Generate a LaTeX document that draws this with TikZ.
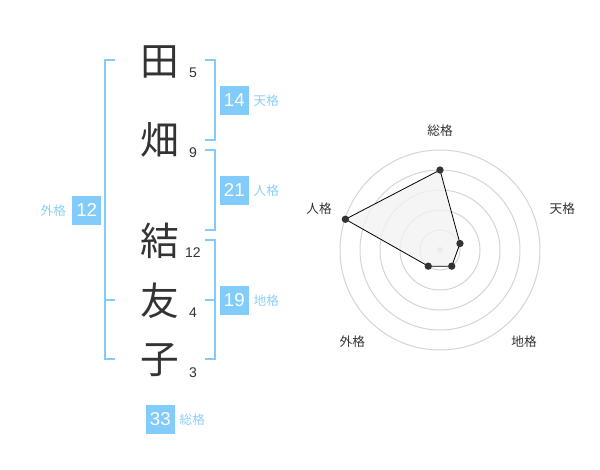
\documentclass[tikz,border=0pt]{standalone}
\usepackage{fontspec}
\setmainfont{Liberation Sans}
\newfontfamily\jp{Noto Sans CJK JP}
\usetikzlibrary{positioning}

\definecolor{kakublue}{RGB}{129,204,250}
\definecolor{kakutext}{RGB}{140,208,246}
\definecolor{inkgrey}{RGB}{51,51,51}
\definecolor{ringgrey}{RGB}{212,212,212}
\definecolor{areagrey}{RGB}{242,242,242}

\tikzset{every picture/.style={line width=0.75pt}}
\tikzset{
  kanji/.style={font=\jp\fontsize{29}{29}\selectfont, text=inkgrey, inner sep=0pt},
  strokes/.style={font=\fontsize{10.5}{10.5}\selectfont, text=inkgrey, inner sep=0pt},
  kakubox/.style={fill=kakublue, text=white, minimum size=21.5pt, inner sep=0pt, font=\fontsize{14}{14}\selectfont},
  kakulabel/.style={font=\jp\fontsize{9.5}{9.5}\selectfont, text=kakutext, inner sep=0pt},
  bracket/.style={draw=kakublue, line width=1.5pt},
  ring/.style={draw=ringgrey, line width=0.75pt},
  axislabel/.style={font=\jp\fontsize{9.5}{9.5}\selectfont, text=inkgrey, inner sep=0pt},
  dot/.style={circle, fill=inkgrey, inner sep=0pt, minimum size=5.5pt}
}

\begin{document}
\begin{tikzpicture}[x=0.75pt,y=0.75pt,yscale=-1,xscale=1]
	\path[use as bounding box] (0,0) rectangle (600,470); %set diagram to 600 x 470

	% Text Node
	\node[kanji] (k1) at (160,62) {田};
	% Text Node
	\node[kanji] (k2) at (160,140) {畑};
	% Text Node
	\node[kanji] (k3) at (160,241) {結};
	% Text Node
	\node[kanji] (k4) at (160,301) {友};
	% Text Node
	\node[kanji] (k5) at (160,360) {子};

	% Text Node
	\node[strokes] (s1) at (193,72.5) {5};
	% Text Node
	\node[strokes] (s2) at (193,152.5) {9};
	% Text Node
	\node[strokes] (s3) at (193,252.5) {12};
	% Text Node
	\node[strokes] (s4) at (193,312.5) {4};
	% Text Node
	\node[strokes] (s5) at (193,372.5) {3};

	%Straight Lines [id:tenkaku]
	\draw[bracket] (205,60) -- (215,60) -- (215,140) -- (205,140) ;
	%Straight Lines [id:jinkaku]
	\draw[bracket] (205,150) -- (215,150) -- (215,230) -- (205,230) ;
	%Straight Lines [id:chikaku]
	\draw[bracket] (205,240) -- (215,240) -- (215,359) -- (205,359) ;
	\draw[bracket] (215,300) -- (205,300) ;
	%Straight Lines [id:gaikaku]
	\draw[bracket] (115,60) -- (105,60) -- (105,359) -- (115,359) ;
	\draw[bracket] (105,300) -- (115,300) ;

	% Text Node
	\node[kakubox] (ten) at (234.3,100.3) {14};
	\node[kakulabel, right=3pt of ten] (tenlbl) {天格};
	% Text Node
	\node[kakubox] (jin) at (234.3,190.3) {21};
	\node[kakulabel, right=3pt of jin] (jinlbl) {人格};
	% Text Node
	\node[kakubox] (chi) at (234.3,300.3) {19};
	\node[kakulabel, right=3pt of chi] (chilbl) {地格};
	% Text Node
	\node[kakubox] (gai) at (86.7,210.3) {12};
	\node[kakulabel, left=4pt of gai] (gailbl) {外格};
	% Text Node
	\node[kakubox] (sou) at (160.3,419.3) {33};
	\node[kakulabel, right=3pt of sou] (soulbl) {総格};

	%Shape: Circles
	\begin{scope}[shift={(440,250)}, yscale=-1]
		\foreach \r in {20,40,60,80,100} {
			\draw[ring] (0,0) circle (\r) ;
		}
		\fill[ringgrey] (0,0) circle (3) ;

		\coordinate (psou) at (90:80) ;
		\coordinate (pten) at (18:21) ;
		\coordinate (pchi) at (-54:20) ;
		\coordinate (pgai) at (-126:20) ;
		\coordinate (pjin) at (162:99.5) ;

		%Shape: Polygon
		\draw[fill=areagrey, fill opacity=0.8, draw=black, line width=0.6pt] (psou) -- (pten) -- (pchi) -- (pgai) -- (pjin) -- cycle ;
		\foreach \p in {psou,pten,pchi,pgai,pjin} {
			\node[dot] at (\p) {};
		}
	\end{scope}

	% Text Node
	\node[axislabel] (asou) at (440,130.7) {総格};
	% Text Node
	\node[axislabel] (aten) at (562.3,208.3) {天格};
	% Text Node
	\node[axislabel] (achi) at (524,342) {地格};
	% Text Node
	\node[axislabel] (agai) at (352.3,342) {外格};
	% Text Node
	\node[axislabel] (ajin) at (319,209) {人格};

\end{tikzpicture}
\end{document}
